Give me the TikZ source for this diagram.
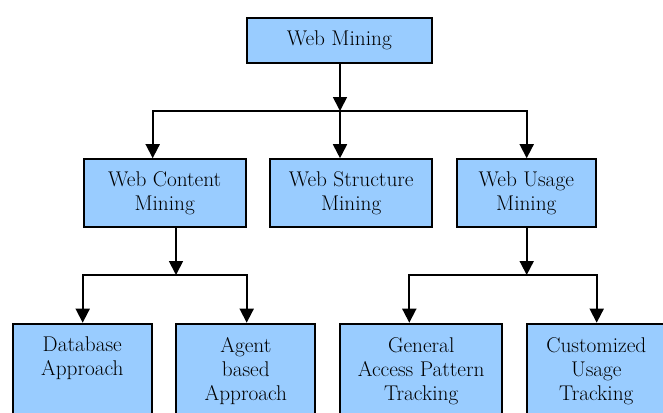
\documentclass[tikz,border=0pt]{standalone}
\usetikzlibrary{arrows.meta}
\definecolor{bleuclair}{HTML}{99CCFF}

\begin{document}
\begin{tikzpicture}[x=1pt, y=-1pt, font=\fontsize{21.3}{24}\selectfont]
\tikzset{boite/.style={draw, line width=2pt, fill=bleuclair, inner sep=0pt, align=center},
  texte/.style={anchor=north, inner sep=0pt, align=center},
  fleche/.style={line width=1.8pt, -{Triangle[length=14pt, width=14pt]}},
  deuxfleches/.style={line width=1.8pt, {Triangle[length=14pt, width=14pt]}-{Triangle[length=14pt, width=14pt]}}}
\useasboundingbox (0,0) rectangle (663,412);
\clip (0,0) rectangle (663,412);
% niveau 1
\node[boite, minimum width=185pt, minimum height=45pt] (W0) at (339.3,40.7) {Web Mining};
% niveau 2
\node[boite, minimum width=162pt, minimum height=68pt] (W1) at (164.7,193.2) {Web Content\\Mining};
\node[boite, minimum width=162pt, minimum height=68pt] (W2) at (351.2,193.2) {Web Structure\\Mining};
\node[boite, minimum width=139pt, minimum height=68pt] (W3) at (526.3,193.2) {Web Usage\\Mining};
% niveau 3
\node[boite, minimum width=139pt, minimum height=110pt, anchor=north] (A1) at (82.3,322.7) {};
\node[boite, minimum width=139pt, minimum height=110pt, anchor=north] (A2) at (245.8,322.7) {};
\node[boite, minimum width=162pt, minimum height=110pt, anchor=north] (A3) at (421.2,322.7) {};
\node[boite, minimum width=139pt, minimum height=110pt, anchor=north] (A4) at (596.3,322.7) {};
\node[texte] (T1) at ([yshift=-14.3pt]A1.north) {Database\\Approach};
\node[texte] (T2) at ([yshift=-14.3pt]A2.north) {Agent\\based\\Approach};
\node[texte] (T3) at ([yshift=-14.3pt]A3.north) {General\\Access Pattern\\Tracking};
\node[texte] (T4) at ([yshift=-14.3pt]A4.north) {Customized\\Usage\\Tracking};
% connexions
\coordinate (H1) at (152.7,111);
\coordinate (H2) at (340,111);
\coordinate (H3) at (526.7,111);
\coordinate (B1) at (176,275);
\coordinate (G1) at (82.7,275);
\coordinate (D1) at (246.7,275);
\coordinate (G2) at (409.3,275);
\coordinate (D2) at (596.7,275);
\draw[fleche] (W0.south -| H2) -- (H2);
\draw[deuxfleches] (H1 |- W1.north) -- (H1) -- (H3) -- (H3 |- W3.north);
\draw[fleche] (H2) -- (H2 |- W2.north);
\draw[fleche] (W1.south -| B1) -- (B1);
\draw[deuxfleches] (G1 |- A1.north) -- (G1) -- (D1) -- (D1 |- A2.north);
\draw[fleche] (W3.south -| H3) -- (H3 |- G2);
\draw[deuxfleches] (G2 |- A3.north) -- (G2) -- (D2) -- (D2 |- A4.north);
\end{tikzpicture}
\end{document}
